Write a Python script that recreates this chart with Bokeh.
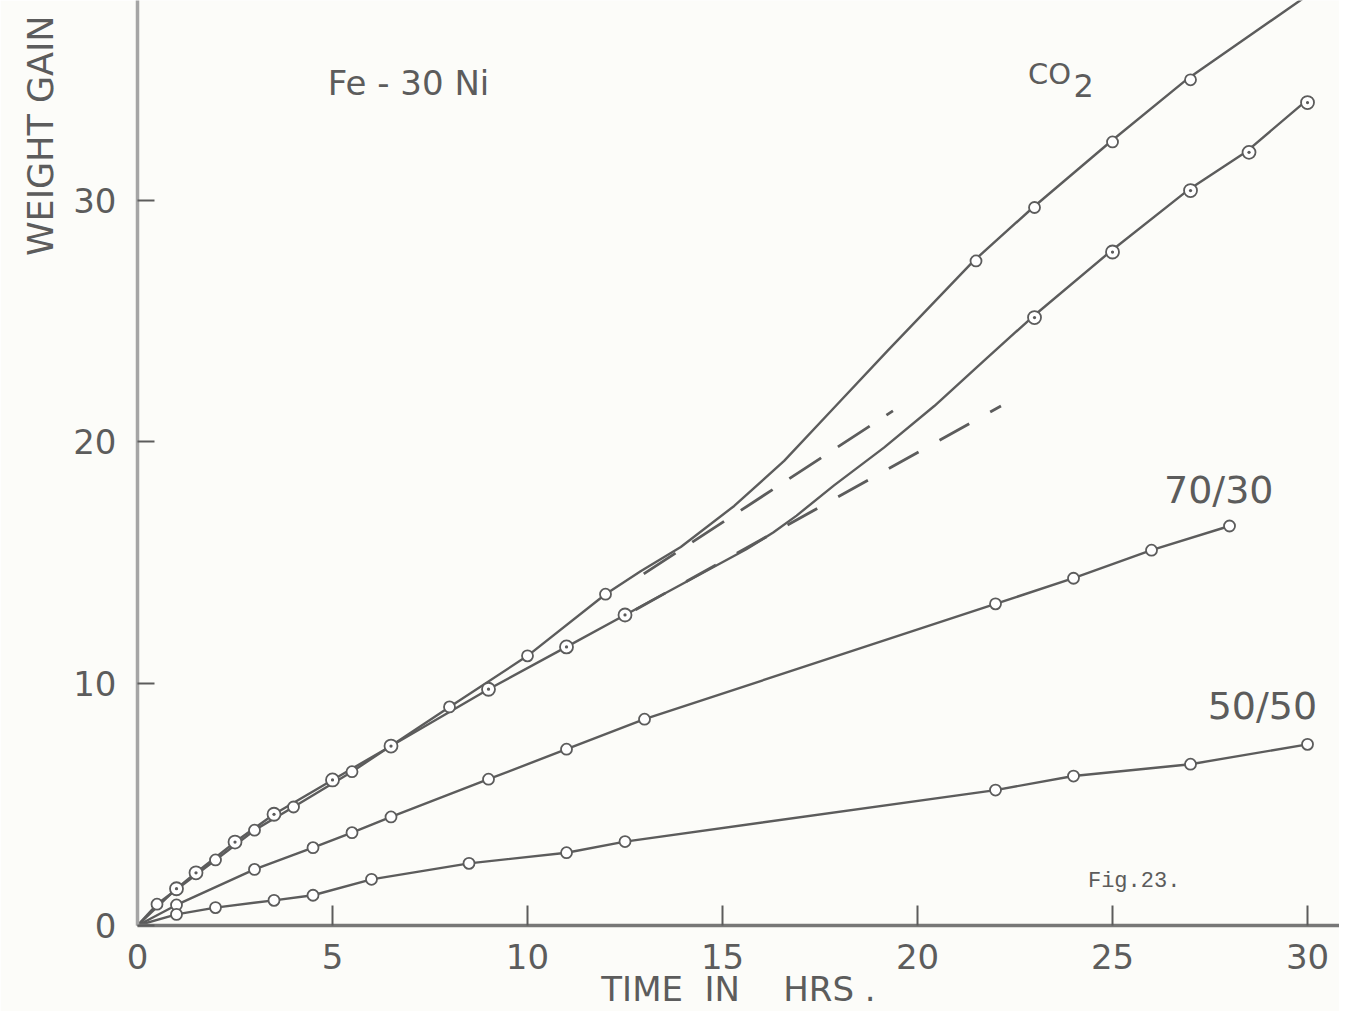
from bokeh.plotting import figure
from bokeh.models import Range1d, FixedTicker, Label, Title
from bokeh.embed import file_html
from bokeh.resources import INLINE

# ---------------- data ----------------
# CO2 curve: observed points (open circles)
co2_t = [0.5, 2, 3, 4, 5.5, 8, 10, 12, 21.5, 23, 25, 27]
co2_w = [0.88, 2.71, 3.94, 4.90, 6.36, 9.04, 11.15, 13.70, 27.48, 29.69, 32.40, 34.97]
# CO2 drawn curve (hand-traced through the points)
co2_curve_t = [0, 0.5, 2, 3, 4, 5.5, 8, 10, 12, 12.9, 13.93, 15.30, 16.58, 17.86, 19.23,
               21.44, 22.96, 24.94, 26.89, 30.3]
co2_curve_w = [0, 0.88, 2.71, 3.94, 4.90, 6.36, 9.04, 11.15, 13.70, 14.65, 15.65, 17.35, 19.21,
               21.41, 23.76, 27.48, 29.69, 32.40, 34.97, 38.8]

# second CO2 run (dotted circles)
run2_t = [1, 1.5, 2.5, 3.5, 5, 6.5, 9, 11, 12.5, 23, 25, 27, 28.5, 30]
run2_w = [1.52, 2.18, 3.45, 4.60, 6.02, 7.42, 9.77, 11.52, 12.84, 25.14, 27.85, 30.39, 31.97, 34.03]
run2_curve_t = [0, 1, 1.5, 2.5, 3.5, 5, 6.5, 9, 11, 12.5, 15.6, 16.3, 16.9, 17.86, 19.14, 20.43,
                21.70, 22.93, 24.93, 26.92, 28.41, 29.91]
run2_curve_w = [0, 1.52, 2.18, 3.45, 4.60, 6.02, 7.42, 9.77, 11.52, 12.84, 15.55, 16.25, 16.95,
                18.20, 19.76, 21.48, 23.35, 25.14, 27.85, 30.39, 31.97, 34.03]

# 70/30 gas mixture
m7030_t = [1, 3, 4.5, 5.5, 6.5, 9, 11, 13, 22, 24, 26, 28]
m7030_w = [0.85, 2.32, 3.22, 3.84, 4.49, 6.05, 7.29, 8.53, 13.30, 14.36, 15.52, 16.52]

# 50/50 gas mixture
m5050_t = [1, 2, 3.5, 4.5, 6, 8.5, 11, 12.5, 22, 24, 27, 30]
m5050_w = [0.46, 0.74, 1.04, 1.25, 1.91, 2.57, 3.01, 3.47, 5.60, 6.18, 6.67, 7.49]

# dashed linear extrapolations
ext1_t = [12.98, 19.37]
ext1_w = [14.54, 21.28]
ext2_t = [12.77, 22.14]
ext2_w = [13.06, 21.48]

x_ticks = [0, 5, 10, 15, 20, 25, 30]
y_ticks = [0, 10, 20, 30]

# ---------------- styling ----------------
INK = "#5c5c5c"
PAPER = "#fcfcf9"
FONT = "DejaVu Sans"

p = figure(width=1339, height=1011, output_backend="svg", toolbar_location=None, title=None,
           x_range=Range1d(0, 30.82), y_range=Range1d(0, 38.25),
           min_border_left=137, min_border_right=0, min_border_top=0, min_border_bottom=86)
p.background_fill_color = PAPER
p.border_fill_color = PAPER
p.outline_line_color = None
p.grid.visible = False

# axes
p.xaxis.ticker = FixedTicker(ticks=x_ticks)
p.yaxis.ticker = FixedTicker(ticks=y_ticks)
for ax in (p.xaxis, p.yaxis):
    ax.minor_tick_line_color = None
    ax.major_tick_out = 0
    ax.major_tick_line_color = INK
    ax.major_tick_line_width = 2
    ax.major_label_text_font = FONT
    ax.major_label_text_font_size = "34px"
    ax.major_label_text_color = INK
p.xaxis.major_tick_in = 20
p.yaxis.major_tick_in = 17
p.xaxis.major_label_standoff = 18
p.yaxis.major_label_standoff = 21
p.xaxis.axis_line_color = "#777777"
p.xaxis.axis_line_width = 3.5
p.yaxis.axis_line_color = "#a5a5a5"
p.yaxis.axis_line_width = 3.5

# axis titles
p.xaxis.axis_label = "TIME\u00a0\u00a0IN\u00a0\u00a0\u00a0\u00a0HRS\u00a0."
p.xaxis.axis_label_text_font = FONT
p.xaxis.axis_label_text_font_size = "34px"
p.xaxis.axis_label_text_font_style = "normal"
p.xaxis.axis_label_text_color = INK
p.xaxis.axis_label_text_line_height = 0.8
p.xaxis.axis_label_standoff = -3

ytitle = Title(text="WEIGHT GAIN", align="right", vertical_align="top", offset=15, standoff=16,
               text_font=FONT, text_font_size="35px", text_font_style="normal",
               text_color=INK)
p.add_layout(ytitle, "left")

# curves
for t, w in [(co2_curve_t, co2_curve_w), (run2_curve_t, run2_curve_w)]:
    p.line(t, w, line_color=INK, line_width=2.4)
p.line([0] + m7030_t, [0] + m7030_w, line_color=INK, line_width=2.4)
p.line([0] + m5050_t, [0] + m5050_w, line_color=INK, line_width=2.4)

# dashed extrapolations
p.line(ext1_t, ext1_w, line_color=INK, line_width=2.8, line_dash="38 20")
p.line(ext2_t, ext2_w, line_color=INK, line_width=2.8, line_dash="34 24")

# markers
p.scatter(co2_t, co2_w, marker="circle", size=11, fill_color="white",
          line_color=INK, line_width=1.8)
p.scatter(run2_t, run2_w, marker="circle_dot", size=13, fill_color="white",
          line_color=INK, line_width=1.8)
p.scatter(m7030_t, m7030_w, marker="circle", size=11, fill_color="white",
          line_color=INK, line_width=1.8)
p.scatter(m5050_t, m5050_w, marker="circle", size=11, fill_color="white",
          line_color=INK, line_width=1.8)

# texts inside the frame
def lab(x, y, text, size="34px", font=FONT):
    p.add_layout(Label(x=x, y=y, text=text, text_font=font, text_font_size=size,
                       text_color=INK, text_align="left", text_baseline="middle"))

lab(4.88, 34.84, "Fe - 30 Ni")
lab(22.83, 35.21, "CO", size="29px")
lab(24.0, 34.74, "2", size="32px")
lab(26.32, 18.01, "70/30", size="38px")
lab(27.44, 9.08, "50/50", size="38px")
lab(24.37, 1.84, "Fig.23.", size="22px", font="Liberation Mono")

open("out.html", "w").write(file_html(p, INLINE))
